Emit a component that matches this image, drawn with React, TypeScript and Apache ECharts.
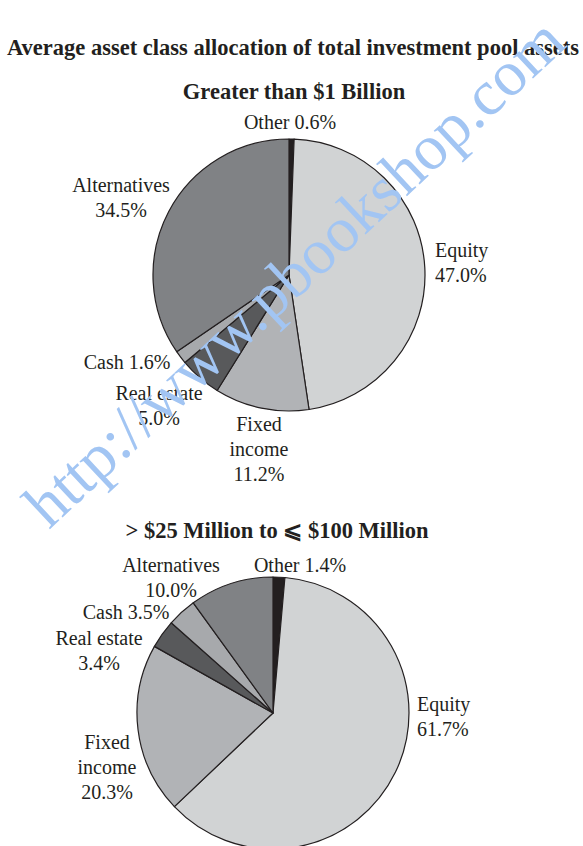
import React, { useEffect, useRef } from "react";
import * as echarts from "echarts";

// ---- data ----
const categories = ["Other", "Equity", "Fixed income", "Real estate", "Cash", "Alternatives"];
const labelNames = ["Other", "Equity", "Fixed\nincome", "Real estate", "Cash", "Alternatives"];
const labelSeparators = [" ", "\n", "\n", "\n", " ", "\n"];
const largePoolValues = [0.6, 47.0, 11.2, 5.0, 1.6, 34.5];
const midPoolValues = [1.4, 61.7, 20.3, 3.4, 3.5, 10.0];
const mainTitle = "Average asset class allocation of total investment pool assets";
const largeTitle = "Greater than $1 Billion";
const midTitle = "> $25 Million to \u2A7D $100 Million";
const watermark = "http://www.pbookshop.com";

// ---- styles / layout ----
const sliceColors = ["#231f20", "#d1d3d4", "#b1b3b6", "#58595b", "#a7a9ac", "#808285"];
const textColor = "#231f20";
const serif = "'Liberation Serif', 'DejaVu Serif', serif";
// label anchor [x, y, align] per slice
const largeLabelPos: [number, number, string][] = [
  [290, 122, "center"],
  [435, 262, "left"],
  [259, 449, "center"],
  [159, 405, "center"],
  [127, 362, "center"],
  [121, 197, "center"],
];
const midLabelPos: [number, number, string][] = [
  [300, 565, "center"],
  [417, 716, "left"],
  [107, 767, "center"],
  [99, 650, "center"],
  [126, 612, "center"],
  [171, 577, "center"],
];

function makeSeries(values: number[], center: [number, number], pos: [number, number, string][]) {
  return {
    type: "pie",
    radius: 136,
    center,
    startAngle: 90,
    clockwise: true,
    silent: true,
    data: categories.map((c, i) => ({
      name: c,
      value: values[i],
      itemStyle: { color: sliceColors[i] },
    })),
    itemStyle: { borderColor: "#231f20", borderWidth: 1.2 },
    label: {
      show: true,
      position: "outside",
      formatter: (p: any) =>
        labelNames[p.dataIndex] + labelSeparators[p.dataIndex] + values[p.dataIndex].toFixed(1) + "%",
      color: textColor,
      fontFamily: serif,
      fontSize: 20,
      lineHeight: 25,
      align: "center",
    },
    labelLine: { show: false },
    labelLayout: (params: any) => {
      const q = pos[params.dataIndex];
      return { x: q[0], y: q[1], align: q[2], verticalAlign: "middle" };
    },
    emphasis: { disabled: true },
  };
}

export default function App() {
  const ref = useRef<HTMLDivElement>(null);
  useEffect(() => {
    if (!ref.current) return;
    const chart = echarts.init(ref.current, undefined, { renderer: "svg" });
    const titleStyle = {
      fontFamily: serif,
      fontWeight: "bold" as const,
      fontSize: 22.5,
      color: textColor,
      lineHeight: 24,
    };
    chart.setOption({
      animation: false,
      backgroundColor: "#ffffff",
      title: [
        { text: mainTitle, left: 293, top: 35, textAlign: "center", textStyle: titleStyle, padding: 0 },
        { text: largeTitle, left: 294, top: 79, textAlign: "center", textStyle: titleStyle, padding: 0 },
        { text: midTitle, left: 277, top: 518, textAlign: "center", textStyle: titleStyle, padding: 0 },
      ],
      series: [
        makeSeries(largePoolValues, [289, 275], largeLabelPos),
        makeSeries(midPoolValues, [273, 713], midLabelPos),
      ],
      graphic: [
        {
          type: "text",
          x: 294,
          y: 272,
          rotation: (43 * Math.PI) / 180,
          z: 100,
          silent: true,
          style: {
            text: watermark,
            font: "64px 'Liberation Serif', serif",
            fill: "#a2c5f3",
            align: "center",
            verticalAlign: "middle",
            textAlign: "center",
            textVerticalAlign: "middle",
          },
        },
      ],
    });
    return () => chart.dispose();
  }, []);
  return (
    <div
      ref={ref}
      style={{ position: "absolute", left: 0, top: 0, width: 583, height: 846, background: "#fff" }}
    />
  );
}
